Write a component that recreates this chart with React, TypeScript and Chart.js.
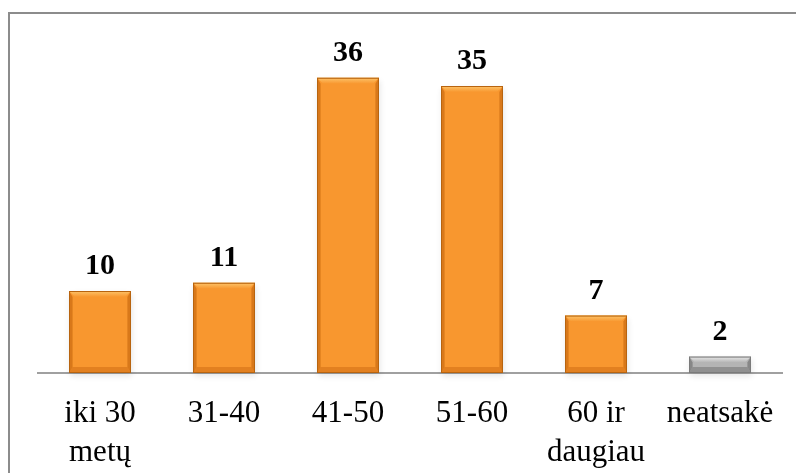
import React, { useEffect, useRef } from "react";
import { Chart, registerables } from "chart.js";

Chart.register(...registerables);

const categories: (string | string[])[] = [["iki 30", "metų"], "31-40", "41-50", "51-60", ["60 ir", "daugiau"], "neatsakė"];
const values: number[] = [10, 11, 36, 35, 7, 2];
const barKinds: string[] = ["orange", "orange", "orange", "orange", "orange", "gray"];

const palette: Record<string, { base: string; top: string; side: string; bottom: string; edge: string }> = {
  orange: { base: "#F8972F", top: "#FDC46A", side: "rgba(190,95,10,0.55)", bottom: "rgba(200,100,15,0.45)", edge: "#B8640F" },
  gray: { base: "#B4B4B4", top: "#E8E8E8", side: "rgba(90,90,90,0.5)", bottom: "rgba(100,100,100,0.45)", edge: "#7A7A7A" },
};

const bevelPlugin = {
  id: "bevel",
  beforeDatasetsDraw(chart: any) {
    const ctx = chart.ctx;
    const meta = chart.getDatasetMeta(0);
    ctx.save();
    meta.data.forEach((bar: any) => {
      const left = bar.x - bar.width / 2;
      const top = bar.y;
      const h = bar.base - bar.y;
      ctx.shadowColor = "rgba(0,0,0,0.35)";
      ctx.shadowBlur = 6;
      ctx.shadowOffsetX = 1;
      ctx.shadowOffsetY = 3;
      ctx.fillStyle = "rgba(0,0,0,0.3)";
      ctx.fillRect(left, top, bar.width, h);
    });
    ctx.restore();
  },
  afterDatasetsDraw(chart: any) {
    const ctx = chart.ctx;
    const meta = chart.getDatasetMeta(0);
    ctx.save();
    meta.data.forEach((bar: any, i: number) => {
      const p = palette[barKinds[i]];
      const l = bar.x - bar.width / 2;
      const r = bar.x + bar.width / 2;
      const t = bar.y;
      const b = bar.base;
      const bv = Math.min(6, (b - t) / 2);
      const g = ctx.createLinearGradient(0, t, 0, t + bv);
      g.addColorStop(0, p.top);
      g.addColorStop(1, p.base);
      ctx.fillStyle = g;
      ctx.beginPath();
      ctx.moveTo(l, t); ctx.lineTo(r, t); ctx.lineTo(r - bv, t + bv); ctx.lineTo(l + bv, t + bv); ctx.closePath();
      ctx.fill();
      ctx.fillStyle = p.side;
      ctx.beginPath();
      ctx.moveTo(l, t); ctx.lineTo(l + bv * 0.6, t + bv); ctx.lineTo(l + bv * 0.6, b - bv); ctx.lineTo(l, b); ctx.closePath();
      ctx.fill();
      ctx.beginPath();
      ctx.moveTo(r, t); ctx.lineTo(r - bv * 0.6, t + bv); ctx.lineTo(r - bv * 0.6, b - bv); ctx.lineTo(r, b); ctx.closePath();
      ctx.fill();
      ctx.fillStyle = p.bottom;
      ctx.beginPath();
      ctx.moveTo(l, b); ctx.lineTo(r, b); ctx.lineTo(r - bv * 0.6, b - bv); ctx.lineTo(l + bv * 0.6, b - bv); ctx.closePath();
      ctx.fill();
      ctx.strokeStyle = p.edge;
      ctx.lineWidth = 1;
      ctx.strokeRect(l + 0.5, t + 0.5, bar.width - 1, b - t - 1);
      ctx.fillStyle = "#000";
      ctx.font = "bold 30px 'Liberation Serif', 'Times New Roman', serif";
      ctx.textAlign = "center";
      ctx.textBaseline = "alphabetic";
      ctx.fillText(String(values[i]), bar.x, t - 17);
    });
    ctx.restore();
  },
};

export default function App() {
  const ref = useRef<HTMLCanvasElement | null>(null);
  useEffect(() => {
    document.body.style.overflow = "hidden";
    const canvas = ref.current!;
    const chart = new Chart(canvas, {
      type: "bar",
      data: {
        labels: categories,
        datasets: [
          {
            data: values,
            backgroundColor: barKinds.map((k) => palette[k].base),
            borderWidth: 0,
            barPercentage: 0.5,
            categoryPercentage: 1,
          },
        ],
      },
      options: {
        animation: false,
        responsive: false,
        layout: { padding: { left: 28, right: 14, top: 31, bottom: 0 } },
        plugins: { legend: { display: false }, tooltip: { enabled: false } },
        scales: {
          x: {
            grid: { display: false, drawTicks: false },
            border: { display: true, color: "#A0A0A0", width: 2 },
            ticks: {
              color: "#000",
              font: { family: "'Liberation Serif', 'Times New Roman', serif", size: 31, lineHeight: 1.26 },
              padding: 21,
              maxRotation: 0,
              autoSkip: false,
            },
            afterFit: (scale: any) => {
              scale.height = 100;
            },
          },
          y: { display: false, min: 0, max: 40 },
        },
      },
      plugins: [bevelPlugin],
    });
    return () => chart.destroy();
  }, []);
  return (
    <div
      style={{
        position: "absolute",
        left: 8,
        top: 12,
        borderLeft: "2px solid #8C8C8C",
        borderTop: "2px solid #8C8C8C",
        background: "#fff",
      }}
    >
      <canvas ref={ref} width={786} height={459} style={{ display: "block" }} />
    </div>
  );
}
